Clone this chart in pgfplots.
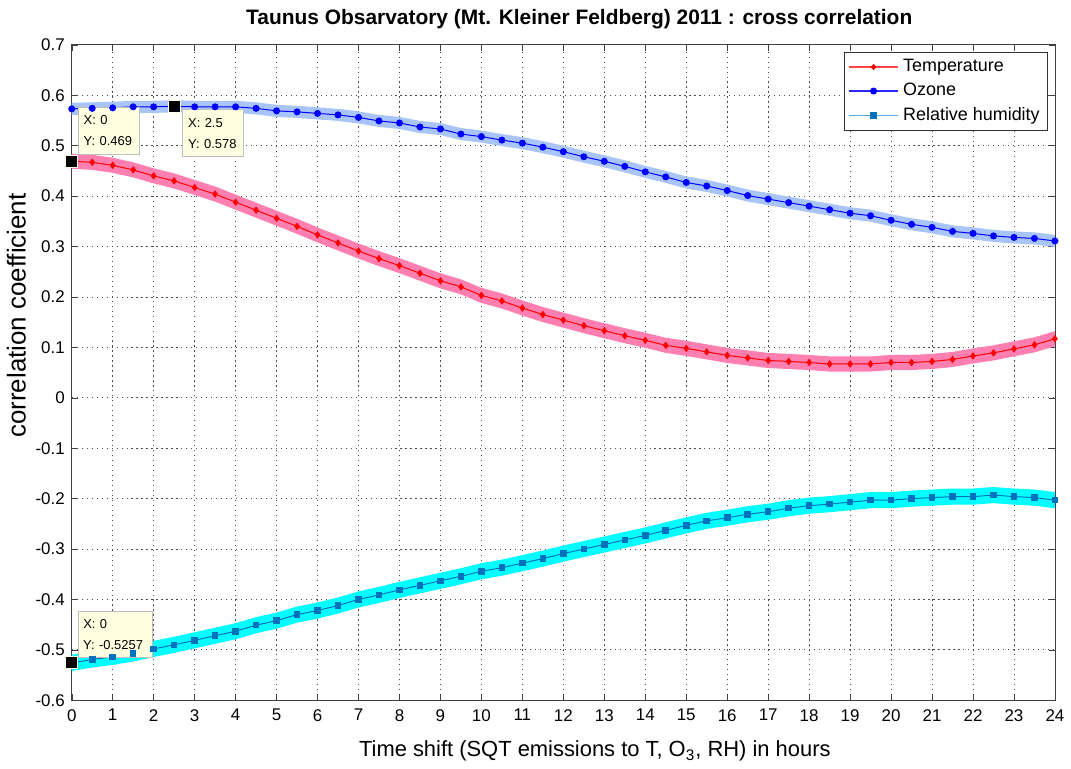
\documentclass[border=0pt]{standalone}
\usepackage{fontspec}
\setmainfont{Liberation Sans}
\usepackage{pgfplots}
\usepackage{pgfplotstable}
\pgfplotsset{compat=1.18}
\usepgfplotslibrary{fillbetween}
\definecolor{tband}{RGB}{255,128,176}
\definecolor{oband}{RGB}{168,196,248}
\definecolor{rband}{RGB}{0,255,255}
\definecolor{rhcol}{RGB}{0,114,189}
\definecolor{rhleg}{RGB}{90,170,225}
\definecolor{tleg}{RGB}{255,70,70}
\definecolor{oleg}{RGB}{40,40,255}
\definecolor{tipfill}{RGB}{255,255,225}
\pgfplotstableread{
x T O R
0 0.469 0.573 -0.5257
0.5 0.467 0.574 -0.519
1 0.461 0.575 -0.514
1.5 0.452 0.577 -0.507
2 0.440 0.577 -0.498
2.5 0.430 0.578 -0.490
3 0.417 0.577 -0.481
3.5 0.404 0.577 -0.472
4 0.388 0.577 -0.463
4.5 0.372 0.574 -0.451
5 0.356 0.569 -0.442
5.5 0.340 0.567 -0.430
6 0.323 0.564 -0.422
6.5 0.307 0.561 -0.412
7 0.291 0.556 -0.400
7.5 0.276 0.549 -0.391
8 0.262 0.545 -0.381
8.5 0.247 0.537 -0.372
9 0.232 0.533 -0.363
9.5 0.220 0.523 -0.354
10 0.203 0.518 -0.344
10.5 0.192 0.511 -0.337
11 0.178 0.505 -0.328
11.5 0.165 0.497 -0.319
12 0.154 0.488 -0.309
12.5 0.143 0.478 -0.300
13 0.133 0.469 -0.291
13.5 0.123 0.459 -0.282
14 0.114 0.448 -0.273
14.5 0.104 0.438 -0.263
15 0.098 0.427 -0.253
15.5 0.091 0.420 -0.244
16 0.084 0.411 -0.238
16.5 0.079 0.401 -0.231
17 0.074 0.394 -0.226
17.5 0.072 0.387 -0.219
18 0.070 0.380 -0.214
18.5 0.067 0.373 -0.211
19 0.067 0.366 -0.207
19.5 0.067 0.361 -0.203
20 0.070 0.352 -0.203
20.5 0.070 0.344 -0.200
21 0.072 0.338 -0.198
21.5 0.076 0.330 -0.196
22 0.083 0.326 -0.196
22.5 0.089 0.321 -0.193
23 0.097 0.318 -0.196
23.5 0.105 0.316 -0.198
24 0.117 0.311 -0.203
}\data
\begin{document}
\begin{tikzpicture}
\begin{axis}[
  scale only axis,
  width=493.5pt, height=329pt,
  xmin=0, xmax=24, ymin=-0.6, ymax=0.7,
  xtick={0,1,...,24},
  ytick={-0.6,-0.5,-0.4,-0.3,-0.2,-0.1,0,0.1,0.2,0.3,0.4,0.5,0.6,0.7},
  yticklabels={-0.6,-0.5,-0.4,-0.3,-0.2,-0.1,0,0.1,0.2,0.3,0.4,0.5,0.6,0.7},
  /pgf/number format/assume math mode=true,
  tick align=inside, xtick pos=both, ytick pos=both,
  major tick length=3pt,
  tick style={black!75},
  axis line style={black!75},
  grid=major,
  grid style={black!70, line width=0.4pt, dash pattern=on 0.6pt off 1.9pt},
  tick label style={font=\fontsize{8.5}{10}\selectfont},
  xticklabel style={yshift=-1pt},
  title={\bfseries Taunus Obsarvatory (Mt. Kleiner Feldberg) 2011 : cross correlation},
  title style={font=\fontsize{10.5}{12}\selectfont, yshift=-1.5pt, xshift=8pt},
  xlabel={Time shift (SQT emissions to T, O\textsubscript{3}, RH) in hours},
  xlabel style={font=\fontsize{11}{13}\selectfont, at={(ticklabel cs:0.532)}, yshift=-3pt},
  ylabel={correlation coefficient},
  ylabel style={font=\fontsize{13}{15}\selectfont, at={(ticklabel cs:0.587)}, yshift=-2pt},
  legend style={at={(0.993,0.989)}, anchor=north east, draw=black!80,
    font=\fontsize{9}{11}\selectfont, row sep=0.3pt, inner xsep=2pt, inner ysep=1.5pt},
  legend cell align=left,
  clip=false,
]
% bands
\addplot[name path=tu, draw=none, forget plot] table[x=x, y expr=\thisrow{T}+0.015] {\data};
\addplot[name path=tl, draw=none, forget plot] table[x=x, y expr=\thisrow{T}-0.015] {\data};
\addplot[tband, forget plot] fill between[of=tu and tl];
\addplot[name path=ou, draw=none, forget plot] table[x=x, y expr=\thisrow{O}+0.012] {\data};
\addplot[name path=ol, draw=none, forget plot] table[x=x, y expr=\thisrow{O}-0.012] {\data};
\addplot[oband, forget plot] fill between[of=ou and ol];
\addplot[name path=ru, draw=none, forget plot] table[x=x, y expr=\thisrow{R}+0.016] {\data};
\addplot[name path=rl, draw=none, forget plot] table[x=x, y expr=\thisrow{R}-0.016] {\data};
\addplot[rband, forget plot] fill between[of=ru and rl];
% lines
\addplot[red, line width=0.5pt, mark=diamond*, mark size=1.5pt, mark options={solid},
  legend image code/.code={\draw[tleg, line width=0.7pt] (0pt,0pt) -- (25pt,0pt); \fill[red] (12.5pt,-1.2pt) -- (13.7pt,0pt) -- (12.5pt,1.2pt) -- (11.3pt,0pt) -- cycle;}] table[x=x, y=T] {\data};
\addlegendentry{Temperature}
\addplot[blue, line width=0.5pt, mark=*, mark size=1.5pt,
  legend image code/.code={\draw[oleg, line width=0.7pt] (0pt,0pt) -- (25pt,0pt); \fill[blue] (12.5pt,0pt) circle (1.5pt);}] table[x=x, y=O] {\data};
\addlegendentry{Ozone}
\addplot[rhcol, line width=0.5pt, mark=square*, mark size=1.4pt,
  legend image code/.code={\draw[rhleg, line width=0.7pt] (0pt,0pt) -- (25pt,0pt); \fill[rhcol] (11.1pt,-1.4pt) rectangle (13.9pt,1.4pt);}] table[x=x, y=R] {\data};
\addlegendentry{Relative humidity}
% data tips
\addplot[only marks, mark=square*, mark size=3pt, mark options={fill=black, draw=tipfill, line width=0.4pt}, forget plot]
  coordinates {(0,0.469) (2.5,0.578) (0,-0.5257)};
\node[draw=black!25, fill=tipfill, anchor=north west, align=left, inner xsep=2.5pt, inner ysep=2pt,
  font=\fontsize{6.5}{10.5}\selectfont, minimum width=30.5pt, minimum height=23.5pt, text width=25pt]
  at (axis cs:0.15,0.577) {X: 0\\Y: 0.469};
\node[draw=black!25, fill=tipfill, anchor=north west, align=left, inner xsep=2.5pt, inner ysep=2pt,
  font=\fontsize{6.5}{10.5}\selectfont, minimum width=30.5pt, minimum height=23.5pt, text width=25pt]
  at (axis cs:2.7,0.572) {X: 2.5\\Y: 0.578};
\node[draw=black!25, fill=tipfill, anchor=north west, align=left, inner xsep=2.5pt, inner ysep=2pt,
  font=\fontsize{6.5}{10.5}\selectfont, minimum width=37pt, minimum height=23.5pt, text width=32pt]
  at (axis cs:0.15,-0.422) {X: 0\\Y: -0.5257};
\end{axis}
\path (-36pt,-32.5pt) rectangle (499.5pt,351.5pt);
\end{tikzpicture}
\end{document}
